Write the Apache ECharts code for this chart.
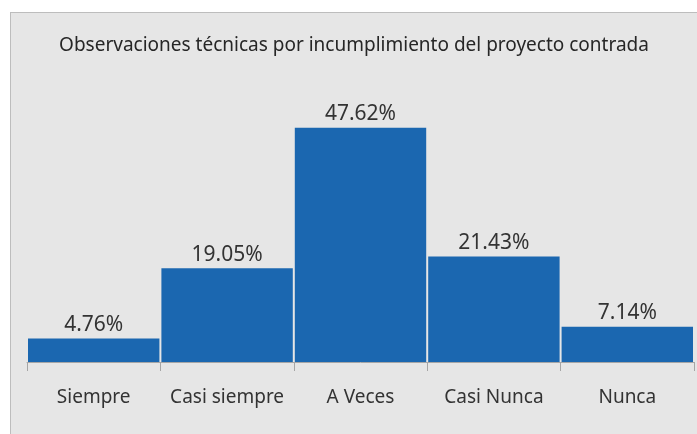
<!DOCTYPE html>
<html>
<head>
<meta charset="utf-8">
<script src="https://cdn.jsdelivr.net/npm/echarts@6/dist/echarts.min.js"></script>
<style>
  html, body { margin: 0; padding: 0; background: #ffffff; }
  #panel { position: absolute; left: 10px; top: 12px; width: 700px; height: 440px;
           background: #e6e6e6; border-left: 1px solid #bdbdbd; border-top: 1px solid #bdbdbd; }
  #chart { position: absolute; left: 0; top: 0; width: 697px; height: 434px; }
</style>
</head>
<body>
<div id="panel"></div>
<div id="chart"></div>
<script>
const titleText = 'Observaciones técnicas por incumplimiento del proyecto contrada'
const categories = ['Siempre', 'Casi siempre', 'A Veces', 'Casi Nunca', 'Nunca']
const percentages = [4.76, 19.05, 47.62, 21.43, 7.14]

const chart = echarts.init(document.getElementById('chart'))
chart.setOption({
  backgroundColor: 'transparent',
  animation: false,
  title: {
    text: titleText,
    left: 349,
    textAlign: 'center',
    top: 31,
    textStyle: { fontFamily: 'Noto Sans', fontSize: 19, fontWeight: 'normal', color: '#262626' },
  },
  grid: { left: 27, right: 3, top: 116, bottom: 72 },
  xAxis: {
    type: 'category',
    data: categories,
    axisLine: { lineStyle: { color: '#a6a6a6', width: 1 } },
    axisTick: { show: true, interval: 0, length: 9, lineStyle: { color: '#a6a6a6' } },
    axisLabel: { interval: 0, color: '#333333', fontFamily: 'Noto Sans', fontSize: 19, margin: 26 },
  },
  yAxis: {
    type: 'value',
    min: 0,
    max: 50,
    show: false,
    splitLine: { show: false },
  },
  series: [{
    type: 'bar',
    data: percentages,
    barCategoryGap: '1.5%',
    itemStyle: { color: '#1b67b0' },
    label: {
      show: true,
      position: 'top',
      distance: 3,
      formatter: (p) => p.value.toFixed(2) + '%',
      color: '#333333',
      fontFamily: 'Noto Sans',
      fontSize: 21,
    },
  }],
})
</script>
</body>
</html>
